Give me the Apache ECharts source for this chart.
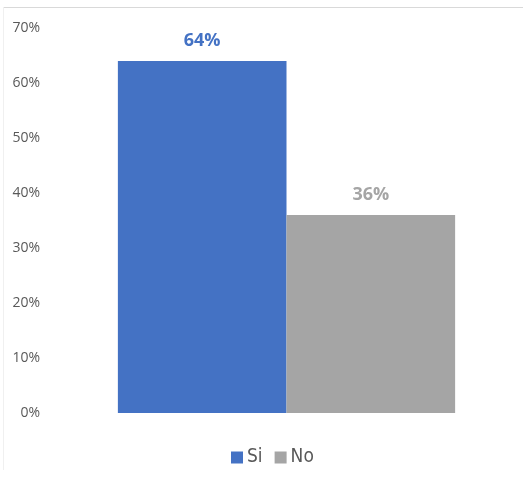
<!DOCTYPE html>
<html>
<head>
<meta charset="utf-8">
<style>
  html, body { margin: 0; padding: 0; background: #fff; }
  #chart { width: 523px; height: 477px; }
</style>
<script src="https://cdn.jsdelivr.net/npm/echarts@6/dist/echarts.min.js"></script>
</head>
<body>
<div id="chart"></div>
<script>
// Survey answers: share of respondents per answer
const categories = [''];
const seriesNames = ['Si', 'No'];
const siValues = [0.64];
const noValues = [0.36];
const yTicks = [0, 0.1, 0.2, 0.3, 0.4, 0.5, 0.6, 0.7];

const colors = ['#4472C4', '#A5A5A5'];
const font = "'Open Sans', sans-serif";
const legendFont = "'DejaVu Sans Condensed', 'Open Sans', sans-serif";

const pct = v => Math.round(v * 100) + '%';

const chart = echarts.init(document.getElementById('chart'), null, { renderer: 'canvas' });

function barSeries(name, values, color) {
  return {
    name: name,
    type: 'bar',
    data: values,
    barGap: '0%',
    barCategoryGap: '28.7%',
    itemStyle: { color: color },
    label: {
      show: true,
      position: 'top',
      distance: 11,
      formatter: p => pct(p.value),
      color: color,
      fontFamily: font,
      fontWeight: 'bold',
      fontSize: 18
    }
  };
}

chart.setOption({
  animation: false,
  backgroundColor: '#fff',
  color: colors,
  graphic: [
    { type: 'line', shape: { x1: 3, y1: 7.5, x2: 523, y2: 7.5 }, style: { stroke: '#d9d9d9', lineWidth: 1 } },
    { type: 'line', shape: { x1: 3.5, y1: 7, x2: 3.5, y2: 470 }, style: { stroke: '#f0f0f0', lineWidth: 1 } }
  ],
  grid: { left: 50, right: 0, top: 28, bottom: 64, containLabel: false },
  legend: {
    data: seriesNames,
    bottom: 5,
    left: 226,
    itemWidth: 12,
    itemHeight: 12,
    itemGap: 12,
    icon: 'rect',
    textStyle: { color: '#595959', fontFamily: legendFont, fontSize: 19, padding: [0, 0, 0, -1] }
  },
  xAxis: {
    type: 'category',
    data: categories,
    axisLine: { show: false },
    axisTick: { show: false },
    axisLabel: { show: false }
  },
  yAxis: {
    type: 'value',
    min: yTicks[0],
    max: yTicks[yTicks.length - 1],
    interval: 0.1,
    splitLine: { show: false },
    axisLine: { show: false },
    axisTick: { show: false },
    axisLabel: {
      formatter: v => pct(v),
      color: '#595959',
      fontFamily: font,
      fontSize: 14,
      margin: 10
    }
  },
  series: [
    barSeries(seriesNames[0], siValues, colors[0]),
    barSeries(seriesNames[1], noValues, colors[1])
  ]
});
</script>
</body>
</html>
